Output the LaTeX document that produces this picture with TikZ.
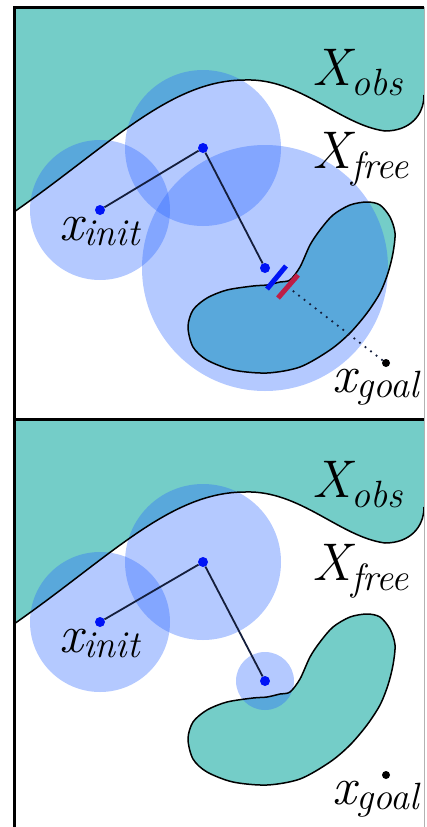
\documentclass[tikz,border=0pt]{standalone}
\usepackage{xcolor}
\usepackage{tikz}
\usetikzlibrary{positioning,calc}

\definecolor{obsteal}{RGB}{116,205,200}
\definecolor{ballblue}{RGB}{40,100,255}
\definecolor{treeblue}{RGB}{0,20,245}
\definecolor{edgenavy}{RGB}{20,30,60}
\definecolor{barred}{RGB}{190,30,70}

\begin{document}
\begin{tikzpicture}[
    x=1pt, y=-1pt,
    ball/.style={circle, fill=ballblue, fill opacity=0.35, inner sep=0pt},
    vertex/.style={circle, fill=treeblue, inner sep=0pt, minimum size=10pt},
    goaldot/.style={circle, fill=black, inner sep=0pt, minimum size=8pt},
    edge/.style={draw=edgenavy, line width=1.8pt},
    obstacle/.style={fill=obsteal},
    boundary/.style={draw=black, line width=1.5pt},
    bar/.style={line width=5pt},
    ray/.style={draw=edgenavy, line width=2.5pt, line cap=round, dash pattern=on 0pt off 7pt},
    mainlbl/.style={font=\fontsize{53}{58}\selectfont\itshape, inner sep=0pt, anchor=base west},
    sublbl/.style={font=\fontsize{38}{42}\selectfont\itshape, inner sep=0pt, anchor=base west},
    frame/.style={line width=3pt}
]

\useasboundingbox (0,0) rectangle (426,827);

% Top panel: obstacles
\fill[obstacle] (14,212) .. controls (110,145) and (170,80) .. (245,80)
    .. controls (300,78) and (340,125) .. (385,131)
    .. controls (410,131) and (424,115) .. (424,95) -- (424,8) -- (14,8) -- cycle;
\fill[obstacle] plot[smooth cycle] coordinates {(290,280) (300,267) (310,245) (320,230)
    (333,215) (350,205) (367,202) (380,205) (390,217) (395,233) (393,253) (388,273)
    (380,293) (367,313) (350,333) (330,350) (300,367) (267,373) (233,370) (207,360)
    (193,347) (188,327) (193,310) (207,298) (227,290) (253,286) (267,285) (280,282)};

% Top panel: balls
\node[ball, minimum size=140pt] (ba1) at (100,210) {};
\node[ball, minimum size=156pt] (ba2) at (203,148) {};
\node[ball, minimum size=246pt] (ba3) at (265,268) {};

% Top panel: obstacle outlines
\draw[boundary] (14,212) .. controls (110,145) and (170,80) .. (245,80)
    .. controls (300,78) and (340,125) .. (385,131)
    .. controls (410,131) and (424,115) .. (424,95);
\draw[boundary] plot[smooth cycle] coordinates {(290,280) (300,267) (310,245) (320,230)
    (333,215) (350,205) (367,202) (380,205) (390,217) (395,233) (393,253) (388,273)
    (380,293) (367,313) (350,333) (330,350) (300,367) (267,373) (233,370) (207,360)
    (193,347) (188,327) (193,310) (207,298) (227,290) (253,286) (267,285) (280,282)};

% Top panel: tree
\node[vertex] (a1) at (100,210) {};
\node[vertex] (a2) at (203,148) {};
\node[vertex] (a3) at (265,268) {};
\node[goaldot] (g1) at (386,363) {};
\coordinate (hit) at (288,287);
\draw[edge] (a1) -- (a2) -- (a3);
\draw[ray] (hit) -- (g1);
\draw[bar, treeblue] (267,289) -- (286,266);
\draw[bar, barred] (278,298) -- (298,275);

% Top panel: labels
\node[mainlbl] (obs1) at (312,85) {X};
\node[sublbl] (obs1s) at ([yshift=-10pt]obs1.base east) {obs};
\node[mainlbl] (free1) at (312,168) {X};
\node[sublbl] (free1s) at ([yshift=-10pt]free1.base east) {free};
\node[mainlbl] (init1) at (59,240) {x};
\node[sublbl] (init1s) at ([yshift=-5pt]init1.base east) {init};
\node[mainlbl] (goal1) at (332,392) {x};
\node[sublbl] (goal1s) at ([yshift=-5pt]goal1.base east) {goal};

\begin{scope}[shift={(0,412)}]
% Bottom panel: obstacles
\fill[obstacle] (14,212) .. controls (110,145) and (170,80) .. (245,80)
    .. controls (300,78) and (340,125) .. (385,131)
    .. controls (410,131) and (424,115) .. (424,95) -- (424,8) -- (14,8) -- cycle;
\fill[obstacle] plot[smooth cycle] coordinates {(290,280) (300,267) (310,245) (320,230)
    (333,215) (350,205) (367,202) (380,205) (390,217) (395,233) (393,253) (388,273)
    (380,293) (367,313) (350,333) (330,350) (300,367) (267,373) (233,370) (207,360)
    (193,347) (188,327) (193,310) (207,298) (227,290) (253,286) (267,285) (280,282)};

% Bottom panel: balls
\node[ball, minimum size=140pt] (bb1) at (100,210) {};
\node[ball, minimum size=156pt] (bb2) at (203,150) {};
\node[ball, minimum size=58pt] (bb3) at (265,269) {};

% Bottom panel: obstacle outlines
\draw[boundary] (14,212) .. controls (110,145) and (170,80) .. (245,80)
    .. controls (300,78) and (340,125) .. (385,131)
    .. controls (410,131) and (424,115) .. (424,95);
\draw[boundary] plot[smooth cycle] coordinates {(290,280) (300,267) (310,245) (320,230)
    (333,215) (350,205) (367,202) (380,205) (390,217) (395,233) (393,253) (388,273)
    (380,293) (367,313) (350,333) (330,350) (300,367) (267,373) (233,370) (207,360)
    (193,347) (188,327) (193,310) (207,298) (227,290) (253,286) (267,285) (280,282)};

% Bottom panel: tree
\node[vertex] (b1) at (100,210) {};
\node[vertex] (b2) at (203,150) {};
\node[vertex] (b3) at (265,269) {};
\node[goaldot] (g2) at (386,363) {};
\draw[edge] (b1) -- (b2) -- (b3);

% Bottom panel: labels
\node[mainlbl] (obs2) at (312,85) {X};
\node[sublbl] (obs2s) at ([yshift=-10pt]obs2.base east) {obs};
\node[mainlbl] (free2) at (312,168) {X};
\node[sublbl] (free2s) at ([yshift=-10pt]free2.base east) {free};
\node[mainlbl] (init2) at (59,240) {x};
\node[sublbl] (init2s) at ([yshift=-5pt]init2.base east) {init};
\node[mainlbl] (goal2) at (332,392) {x};
\node[sublbl] (goal2s) at ([yshift=-5pt]goal2.base east) {goal};
\end{scope}

% Frames
\draw[gray!60, line width=1pt] (424.5,7) -- (424.5,827);
\draw[frame] (14,827) -- (14,7.5) -- (424,7.5);
\draw[frame] (14,419.5) -- (424,419.5);

\end{tikzpicture}
\end{document}
